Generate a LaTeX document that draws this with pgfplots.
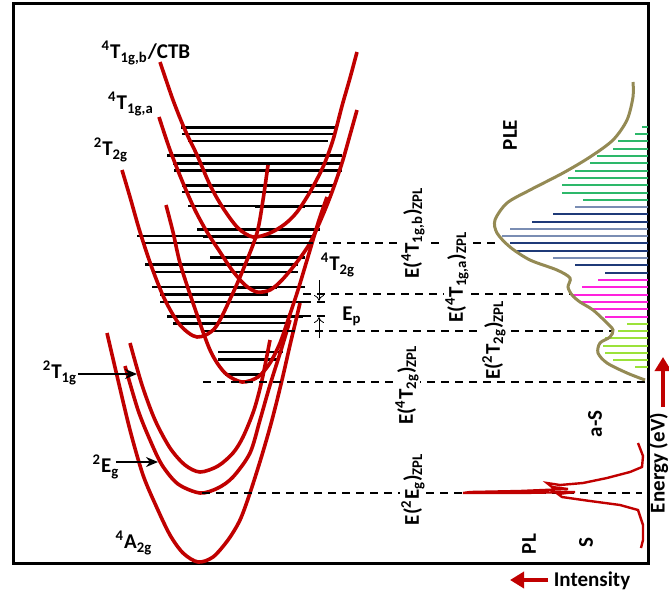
\documentclass[border=0pt]{standalone}
\usepackage{pgfplots}
\pgfplotsset{compat=1.18}
\usepackage{fontspec}
\setmainfont{Carlito}
\usetikzlibrary{arrows.meta}
\definecolor{cred}{HTML}{C00000}
\definecolor{ple}{HTML}{948A54}
\definecolor{hgreen}{HTML}{2DB86A}
\definecolor{hnavy}{HTML}{1F3A78}
\definecolor{hslate}{HTML}{7A8DB3}
\definecolor{hmag}{HTML}{FF22DD}
\definecolor{hyg}{HTML}{9BE23A}
\newcommand{\sps}[1]{\textsuperscript{#1}}
\newcommand{\sbs}[1]{\textsubscript{#1}}
\tikzset{
  lab/.style={font=\fontsize{10.5}{12}\selectfont\bfseries, inner sep=0pt},
  elab/.style={font=\fontsize{10.5}{12}\selectfont\bfseries, inner sep=0.8pt, fill=white, rotate=90},
  dsh/.style={black, line width=0.9pt, dash pattern=on 4pt off 3pt},
  pes/.style={cred, line width=1.8pt, smooth},
}
\begin{document}
\begin{tikzpicture}
\useasboundingbox (0,0) rectangle (334.5pt,297pt);
\clip (0,0) rectangle (334.5pt,297pt);
\begin{axis}[at={(167.25pt,148.5pt)}, anchor=center,
  width=334.5pt, height=297pt, scale only axis,
  xmin=0, xmax=669, ymin=0, ymax=594, y dir=reverse,
  hide axis, clip=false,
]
% frame
\addplot[black, line width=1.5pt, line join=miter] coordinates {(13,3)(648,3)(648,563)(13,563)(13,3)(100,3)};

% vibrational levels (thin)
\addplot[black, line width=0.7pt, unbounded coords=jump] coordinates {
(182,134)(334,134)(0,nan)
(188,141)(328,141)(0,nan)
(182,192)(333,192)(0,nan)
(188,206)(327,206)(0,nan)
(137,236)(203,236)(0,nan)
(144,243)(311,243)(0,nan)
(152,272)(298,272)(0,nan)
(152,287)(305,287)(0,nan)
(160,302)(303,302)(0,nan)
(218,323)(290,323)(0,nan)
(203,331)(287,331)(0,nan)
(218,352)(283,352)};
% vibrational levels (thick)
\addplot[black, line width=1.5pt, unbounded coords=jump] coordinates {
(181,127)(337,127)(0,nan)
(167,155)(342,155)(0,nan)
(173,163)(341,163)(0,nan)
(174,170)(342,170)(0,nan)
(182,185)(336,185)(0,nan)
(255,206)(305,206)(0,nan)
(197,229)(320,229)(0,nan)
(203,236)(313,236)(0,nan)
(210,257)(305,257)(0,nan)
(145,264)(298,264)(0,nan)
(233,287)(277,287)(0,nan)
(160,294)(268,294)(0,nan)
(167,316)(303,316)(0,nan)
(173,323)(218,323)(0,nan)
(218,359)(277,359)(0,nan)
(225,374)(262,374)};

% potential energy curves
\addplot[pes] coordinates {(160,62)(173,100)(185,130)(197,155)(210,185)(223,208)(238,228)(253,237)(270,233)(285,224)(297,212)(310,192)(323,167)(333,140)(342,106)(350,78)(357,52)};
\addplot[pes] coordinates {(159,117)(170,150)(183,183)(195,210)(207,232)(220,252)(232,270)(245,285)(257,292)(270,290)(282,280)(297,262)(310,243)(322,217)(332,192)(342,163)(350,135)(357,110)};
\addplot[pes] coordinates {(122,170)(130,197)(140,232)(152,268)(165,300)(180,325)(197,337)(215,328)(232,295)(245,265)(257,233)(263,200)(268,165)};
\addplot[pes] coordinates {(166,205)(173,232)(180,263)(192,300)(210,350)(225,373)(242,382)(258,377)(270,363)(280,343)(287,323)(298,290)(310,250)(319,220)(327,197)};
\addplot[pes] coordinates {(130,343)(142,385)(155,420)(170,448)(185,465)(200,472)(218,466)(233,453)(243,437)(254,410)(262,380)(270,340)};
\addplot[pes] coordinates {(125,366)(138,410)(150,440)(162,465)(178,484)(200,493)(218,488)(233,477)(250,453)(260,420)(270,385)(282,347)(290,320)};
\addplot[pes] coordinates {(107,333)(118,380)(130,430)(143,475)(157,508)(170,535)(183,553)(198,562)(213,557)(228,540)(240,520)(250,493)(262,455)(272,420)(282,380)(290,345)(296,320)(300,303)};

% dashed ZPL lines
\addplot[dsh] coordinates {(305,243)(500,243)};
\addplot[dsh] coordinates {(303,294)(570,294)};
\addplot[dsh] coordinates {(303,302)(330,302)};
\addplot[dsh] coordinates {(303,316)(330,316)};
\addplot[dsh] coordinates {(287,331)(612,331)};
\addplot[dsh] coordinates {(203,382)(648,382)};
\addplot[dsh] coordinates {(202,493)(642,493)};

% PLE hatching
\addplot[hgreen, line width=0.8pt, unbounded coords=jump] coordinates {
(642,127)(648,127)(0,nan)(635,134)(648,134)(0,nan)(618,141)(648,141)(0,nan)
(613,149)(648,149)(0,nan)(597,156)(648,156)(0,nan)(590,163)(648,163)(0,nan)
(575,171)(648,171)(0,nan)(568,178)(648,178)(0,nan)(562,185)(648,185)(0,nan)
(562,193)(648,193)(0,nan)(583,200)(648,200)};
\addplot[hnavy, line width=0.8pt, unbounded coords=jump] coordinates {
(553,214)(648,214)(0,nan)(532,222)(648,222)(0,nan)(510,243)(648,243)(0,nan)
(517,251)(648,251)(0,nan)(575,265)(648,265)(0,nan)(605,273)(648,273)};
\addplot[hslate, line width=0.8pt, unbounded coords=jump] coordinates {
(575,207)(648,207)(0,nan)(510,229)(648,229)(0,nan)(502,236)(648,236)(0,nan)
(553,258)(648,258)};
\addplot[hmag, line width=0.8pt, unbounded coords=jump] coordinates {
(598,280)(648,280)(0,nan)(582,287)(648,287)(0,nan)(573,295)(648,295)(0,nan)
(580,302)(648,302)(0,nan)(590,309)(648,309)(0,nan)(605,317)(648,317)};
\addplot[hyg, line width=0.8pt, unbounded coords=jump] coordinates {
(627,324)(648,324)(0,nan)(618,331)(648,331)(0,nan)(605,338)(648,338)(0,nan)
(603,346)(648,346)(0,nan)(605,353)(648,353)(0,nan)(613,360)(648,360)(0,nan)
(635,367)(648,367)};

% PLE curve
\addplot[ple, line width=1.5pt, smooth] coordinates {(633,82)(633,97)(627,120)(613,140)(590,157)(563,173)(530,190)(507,203)(495,220)(497,233)(510,247)(530,260)(557,270)(570,278)(568,287)(572,295)(580,302)(593,310)(607,323)(613,330)(610,337)(600,343)(598,353)(607,363)(627,373)(645,380)};

% PL curve
\addplot[cred, line width=1.2pt] coordinates {(638,443)(643,456)(642,467)(630,472)(607,478)(583,483)(560,485)(547,483)(552,487)(568,489)(520,491)(470,492)(463,493)(520,493)(575,492)(558,494)(562,497)(590,501)(620,505)(638,510)(643,525)(643,540)(641,548)};

% arrows
\addplot[black, line width=0.9pt, -{Stealth[length=6pt,width=5pt]}] coordinates {(78,374)(137,374)};
\addplot[black, line width=0.9pt, -{Stealth[length=6pt,width=5pt]}] coordinates {(116,462)(158,462)};
\addplot[black, line width=0.4pt, -{To[length=3pt,width=5pt]}] coordinates {(319,280)(319,301)};
\addplot[black, line width=0.4pt, -{To[length=3pt,width=5pt]}] coordinates {(319,338)(319,317)};
\addplot[cred, line width=2.2pt, -{Triangle[length=7pt,width=8pt]}] coordinates {(548,580)(510,580)};
\addplot[cred, line width=2.2pt, -{Triangle[length=7pt,width=8pt]}] coordinates {(663,407)(663,357)};

% labels
\node[lab] at (axis cs:146,53) {\sps{4}T\sbs{1g,b}/CTB};
\node[lab] at (axis cs:131,104) {\sps{4}T\sbs{1g,a}};
\node[lab] at (axis cs:111,150) {\sps{2}T\sbs{2g}};
\node[lab] at (axis cs:338,265) {\sps{4}T\sbs{2g}};
\node[lab] at (axis cs:352,316) {E\sbs{p}};
\node[lab] at (axis cs:60,373) {\sps{2}T\sbs{1g}};
\node[lab] at (axis cs:106,467) {\sps{2}E\sbs{g}};
\node[lab] at (axis cs:134,543) {\sps{4}A\sbs{2g}};
\node[lab, rotate=90] at (axis cs:510,135) {PLE};
\node[elab] at (axis cs:413,233) {E(\sps{4}T\sbs{1g,b})\sbs{ZPL}};
\node[elab] at (axis cs:457,277) {E(\sps{4}T\sbs{1g,a})\sbs{ZPL}};
\node[elab] at (axis cs:494,340) {E(\sps{2}T\sbs{2g})\sbs{ZPL}};
\node[elab] at (axis cs:407,385) {E(\sps{4}T\sbs{2g})\sbs{ZPL}};
\node[elab] at (axis cs:413,489) {E(\sps{2}E\sbs{g})\sbs{ZPL}};
\node[lab, rotate=90] at (axis cs:595,424) {a-S};
\node[lab, rotate=90] at (axis cs:529,544) {PL};
\node[lab, rotate=90] at (axis cs:586,543) {S};
\node[lab] at (axis cs:592,581) {Intensity};
\node[lab, rotate=90, anchor=south] at (axis cs:668.5,463) {Energy (eV)};
\end{axis}
\end{tikzpicture}
\end{document}
